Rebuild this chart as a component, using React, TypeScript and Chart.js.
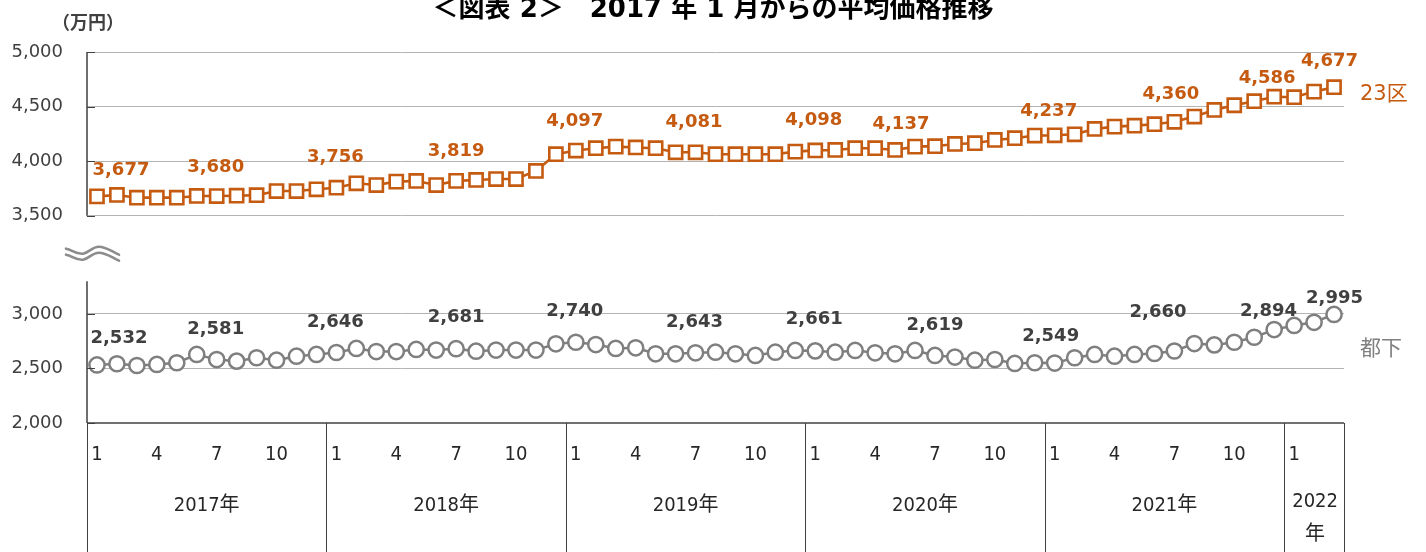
import React, { useEffect, useRef } from 'react';
import { Chart, registerables } from 'chart.js';

Chart.register(...registerables);

// ---------- data ----------
const yearLabels = ['2017年', '2018年', '2019年', '2020年', '2021年', '2022年'];
const monthsInYear = [12, 12, 12, 12, 12, 3];
const monthTickLabels = [1, 4, 7, 10];
const seriesNames = ['23区', '都下'];
const titleText = '＜図表 2＞　2017 年 1 月からの平均価格推移';
const unitText = '（万円）';

const ward23 = [
  3677, 3690, 3665, 3665, 3665, 3681, 3680, 3683, 3688, 3726, 3726, 3742,
  3756, 3797, 3781, 3812, 3818, 3781, 3819, 3827, 3836, 3836, 3910, 4063,
  4097, 4118, 4133, 4125, 4118, 4081, 4081, 4063, 4063, 4063, 4063, 4087,
  4098, 4102, 4118, 4118, 4102, 4133, 4137, 4157, 4164, 4194, 4210, 4234,
  4237, 4246, 4295, 4316, 4325, 4338, 4360, 4408, 4469, 4512, 4549, 4590,
  4586, 4637, 4677,
];
const tokaArea = [
  2532, 2543, 2527, 2537, 2552, 2628, 2581, 2567, 2598, 2576, 2612, 2628,
  2646, 2683, 2655, 2655, 2674, 2668, 2681, 2658, 2668, 2668, 2668, 2726,
  2740, 2719, 2683, 2689, 2634, 2634, 2643, 2649, 2634, 2619, 2649, 2665,
  2661, 2649, 2665, 2643, 2634, 2665, 2619, 2604, 2576, 2582, 2546, 2552,
  2549, 2598, 2628, 2612, 2628, 2637, 2660, 2728, 2716, 2740, 2786, 2856,
  2894, 2923, 2995,
];
const labeledIdx = [0, 6, 12, 18, 24, 30, 36, 42, 48, 54, 60, 62];
const topTicks = [3500, 4000, 4500, 5000];
const bottomTicks = [2000, 2500, 3000];
const topRange = [3500, 5000];
const bottomRange = [2000, 3900];
const bottomAxisTop = 3300;

// ---------- derived ----------
const cats: { yi: number; m: number }[] = [];
yearLabels.forEach((_, yi) => {
  for (let m = 1; m <= monthsInYear[yi]; m++) cats.push({ yi, m });
});
const catLabels = cats.map((c) => `${yearLabels[c.yi]}${c.m}月`);

// ---------- styles ----------
const ORANGE = '#C55A11';
const GRAY = '#7F7F7F';
const DARK = '#404040';
const GRID = '#B4B4B4';
const NUM_FONT = '"DejaVu Sans", "Noto Sans CJK JP", sans-serif';
const TABLE_FONT = '"DejaVu Sans Condensed", "DejaVu Sans", "Noto Sans CJK JP", sans-serif';

const topLabelOffsets: Record<number, [number, number]> = {
  0: [24, -28], 6: [-1, -30.5], 12: [-1, -32], 18: [0, -31], 24: [-1, -31.5],
  30: [-1.5, -31.7], 36: [-1.5, -31.5], 42: [-34, -24], 48: [-6, -26],
  54: [-3.5, -29], 60: [-27, -20.5], 62: [-4.5, -28],
};
const botLabelOffsets: Record<number, [number, number]> = {
  0: [22, -28], 6: [-1, -32.4], 12: [-1, -32.5], 18: [0, -32.7], 24: [-1, -33],
  30: [-1, -32.4], 36: [-1, -33], 42: [0, -32], 48: [-4, -28.6],
  54: [-16.4, -40], 60: [-25.6, -16], 62: [0.5, -18],
};

const fmt = (v: number) => v.toLocaleString('en-US');

const decorPlugin = {
  id: 'decor',
  afterDatasetsDraw(chart: any) {
    const { ctx } = chart;
    ctx.save();
    ctx.textAlign = 'center';
    ctx.textBaseline = 'alphabetic';
    ctx.font = `bold 18px ${NUM_FONT}`;
    const sets: [number, Record<number, [number, number]>, string][] = [
      [0, topLabelOffsets, ORANGE],
      [1, botLabelOffsets, DARK],
    ];
    sets.forEach(([di, offs, color]) => {
      const meta = chart.getDatasetMeta(di);
      const data = chart.data.datasets[di].data as number[];
      ctx.fillStyle = color;
      labeledIdx.forEach((i) => {
        const pt = meta.data[i];
        if (!pt) return;
        const [dx, dy] = offs[i] || [0, -30];
        ctx.fillText(fmt(data[i]), pt.x + dx, pt.y + dy + 6.5);
      });
    });
    ctx.restore();
  },
  afterDraw(chart: any) {
    const { ctx, chartArea: ca, scales } = chart;
    const xs = scales.x;
    const yT = scales.yTop;
    const yB = scales.yBot;
    ctx.save();

    // title
    ctx.fillStyle = '#000';
    ctx.textAlign = 'center';
    ctx.textBaseline = 'alphabetic';
    ctx.font = `bold 26px ${NUM_FONT}`;
    ctx.fillText(titleText, chart.width / 2, 17);

    // unit
    ctx.fillStyle = DARK;
    ctx.font = 'bold 18px "Noto Sans CJK JP", sans-serif';
    ctx.fillText(unitText, ca.left + 1, 29);

    // axis lines
    ctx.strokeStyle = DARK;
    ctx.lineWidth = 1.5;
    ctx.beginPath();
    ctx.moveTo(ca.left, yT.top);
    ctx.lineTo(ca.left, yT.bottom);
    ctx.moveTo(ca.left, yB.getPixelForValue(bottomAxisTop));
    ctx.lineTo(ca.left, yB.bottom);
    ctx.stroke();
    // inner ticks
    ctx.lineWidth = 1.2;
    ctx.beginPath();
    topTicks.forEach((v) => {
      const y = Math.round(yT.getPixelForValue(v)) + 0.5;
      ctx.moveTo(ca.left, y);
      ctx.lineTo(ca.left + 8, y);
    });
    bottomTicks.forEach((v) => {
      const y = Math.round(yB.getPixelForValue(v)) + 0.5;
      ctx.moveTo(ca.left, y);
      ctx.lineTo(ca.left + 8, y);
    });
    ctx.stroke();

    // break mark (double wave)
    const wx = ca.left - 21;
    const wy = yT.bottom + 33;
    ctx.strokeStyle = '#8C8C8C';
    ctx.lineWidth = 2.6;
    ctx.lineCap = 'round';
    [0, 6].forEach((o) => {
      ctx.beginPath();
      ctx.moveTo(wx, wy + o);
      ctx.bezierCurveTo(wx + 6, wy + o + 1, wx + 10, wy + o + 6, wx + 17, wy + o + 5);
      ctx.bezierCurveTo(wx + 23, wy + o + 4, wx + 26, wy + o - 2, wx + 33, wy + o - 2);
      ctx.bezierCurveTo(wx + 40, wy + o - 2, wx + 46, wy + o + 3, wx + 53, wy + o + 6);
      ctx.stroke();
    });
    ctx.lineCap = 'butt';

    // x axis line
    ctx.strokeStyle = DARK;
    ctx.lineWidth = 1.5;
    ctx.beginPath();
    ctx.moveTo(ca.left, ca.bottom);
    ctx.lineTo(ca.right, ca.bottom);
    ctx.stroke();

    // table below
    const half = (xs.getPixelForValue(1) - xs.getPixelForValue(0)) / 2;
    ctx.lineWidth = 1;
    ctx.beginPath();
    const bounds: number[] = [ca.left];
    let start = 0;
    monthsInYear.forEach((n, yi) => {
      start += n;
      const bx = yi === monthsInYear.length - 1 ? ca.right : xs.getPixelForValue(start) - half;
      bounds.push(bx);
    });
    bounds.forEach((bx) => {
      const px = Math.round(bx) + 0.5;
      ctx.moveTo(px, ca.bottom);
      ctx.lineTo(px, chart.height);
    });
    ctx.stroke();

    ctx.fillStyle = '#262626';
    ctx.font = `20px ${TABLE_FONT}`;
    ctx.textAlign = 'center';
    cats.forEach((c, i) => {
      if (monthTickLabels.includes(c.m)) {
        ctx.fillText(String(c.m), xs.getPixelForValue(i), ca.bottom + 37);
      }
    });
    yearLabels.forEach((yl, yi) => {
      const cx = (bounds[yi] + bounds[yi + 1]) / 2;
      if (monthsInYear[yi] < 6) {
        ctx.fillText(yl.slice(0, 4), cx + 1, ca.bottom + 84);
        ctx.fillText(yl.slice(4), cx + 1, ca.bottom + 117);
      } else {
        ctx.fillText(yl, cx, ca.bottom + 88);
      }
    });

    // series names
    ctx.textAlign = 'left';
    ctx.font = `21px ${NUM_FONT}`;
    ctx.fillStyle = ORANGE;
    ctx.fillText(seriesNames[0], ca.right + 16, 100);
    ctx.fillStyle = '#808080';
    ctx.fillText(seriesNames[1], ca.right + 16, 355);

    ctx.restore();
  },
};

export default function App() {
  const ref = useRef<HTMLCanvasElement | null>(null);
  useEffect(() => {
    if (!ref.current) return;
    const tickFont = { family: NUM_FONT, size: 18 };
    const chart = new Chart(ref.current, {
      type: 'line',
      data: {
        labels: catLabels,
        datasets: [
          {
            label: seriesNames[0],
            data: ward23,
            yAxisID: 'yTop',
            borderColor: ORANGE,
            borderWidth: 2.6,
            pointStyle: 'rect',
            pointRadius: 9.3,
            pointBorderWidth: 2.6,
            pointBackgroundColor: '#fff',
            pointBorderColor: ORANGE,
            tension: 0,
          },
          {
            label: seriesNames[1],
            data: tokaArea,
            yAxisID: 'yBot',
            borderColor: GRAY,
            borderWidth: 2.5,
            pointStyle: 'circle',
            pointRadius: 7.6,
            pointBorderWidth: 2.5,
            pointBackgroundColor: '#fff',
            pointBorderColor: GRAY,
            tension: 0,
          },
        ],
      },
      options: {
        responsive: false,
        animation: false,
        devicePixelRatio: 1,
        layout: { padding: { left: 0, right: 82, top: 52, bottom: 129 } },
        plugins: { legend: { display: false }, tooltip: { enabled: false }, title: { display: false } },
        scales: {
          x: {
            type: 'category',
            offset: true,
            display: false,
            grid: { display: false },
          },
          yBot: {
            type: 'linear',
            position: 'left',
            stack: 'v',
            stackWeight: bottomRange[1] - bottomRange[0],
            min: bottomRange[0],
            max: bottomRange[1],
            afterBuildTicks: (s: any) => { s.ticks = bottomTicks.map((v) => ({ value: v })); },
            afterFit: (s: any) => { s.width = 87; },
            border: { display: false },
            grid: {
              color: (c: any) => (c.tick && c.tick.value === bottomRange[0] ? 'rgba(0,0,0,0)' : GRID),
              lineWidth: 1,
              drawTicks: false,
            },
            ticks: {
              padding: 24,
              color: DARK,
              font: tickFont,
              callback: (v: any) => fmt(Number(v)),
            },
          },
          yTop: {
            type: 'linear',
            position: 'left',
            stack: 'v',
            stackWeight: topRange[1] - topRange[0],
            min: topRange[0],
            max: topRange[1],
            afterBuildTicks: (s: any) => { s.ticks = topTicks.map((v) => ({ value: v })); },
            afterFit: (s: any) => { s.width = 87; },
            border: { display: false },
            grid: { color: GRID, lineWidth: 1, drawTicks: false },
            ticks: {
              padding: 24,
              color: DARK,
              font: tickFont,
              callback: (v: any) => fmt(Number(v)),
            },
          },
        },
      } as any,
      plugins: [decorPlugin],
    });
    return () => chart.destroy();
  }, []);
  return (
    <div style={{ position: 'fixed', left: 0, top: 0, width: 1426, height: 552, background: '#fff' }}>
      <canvas ref={ref} width={1426} height={552} style={{ display: 'block' }} />
    </div>
  );
}
